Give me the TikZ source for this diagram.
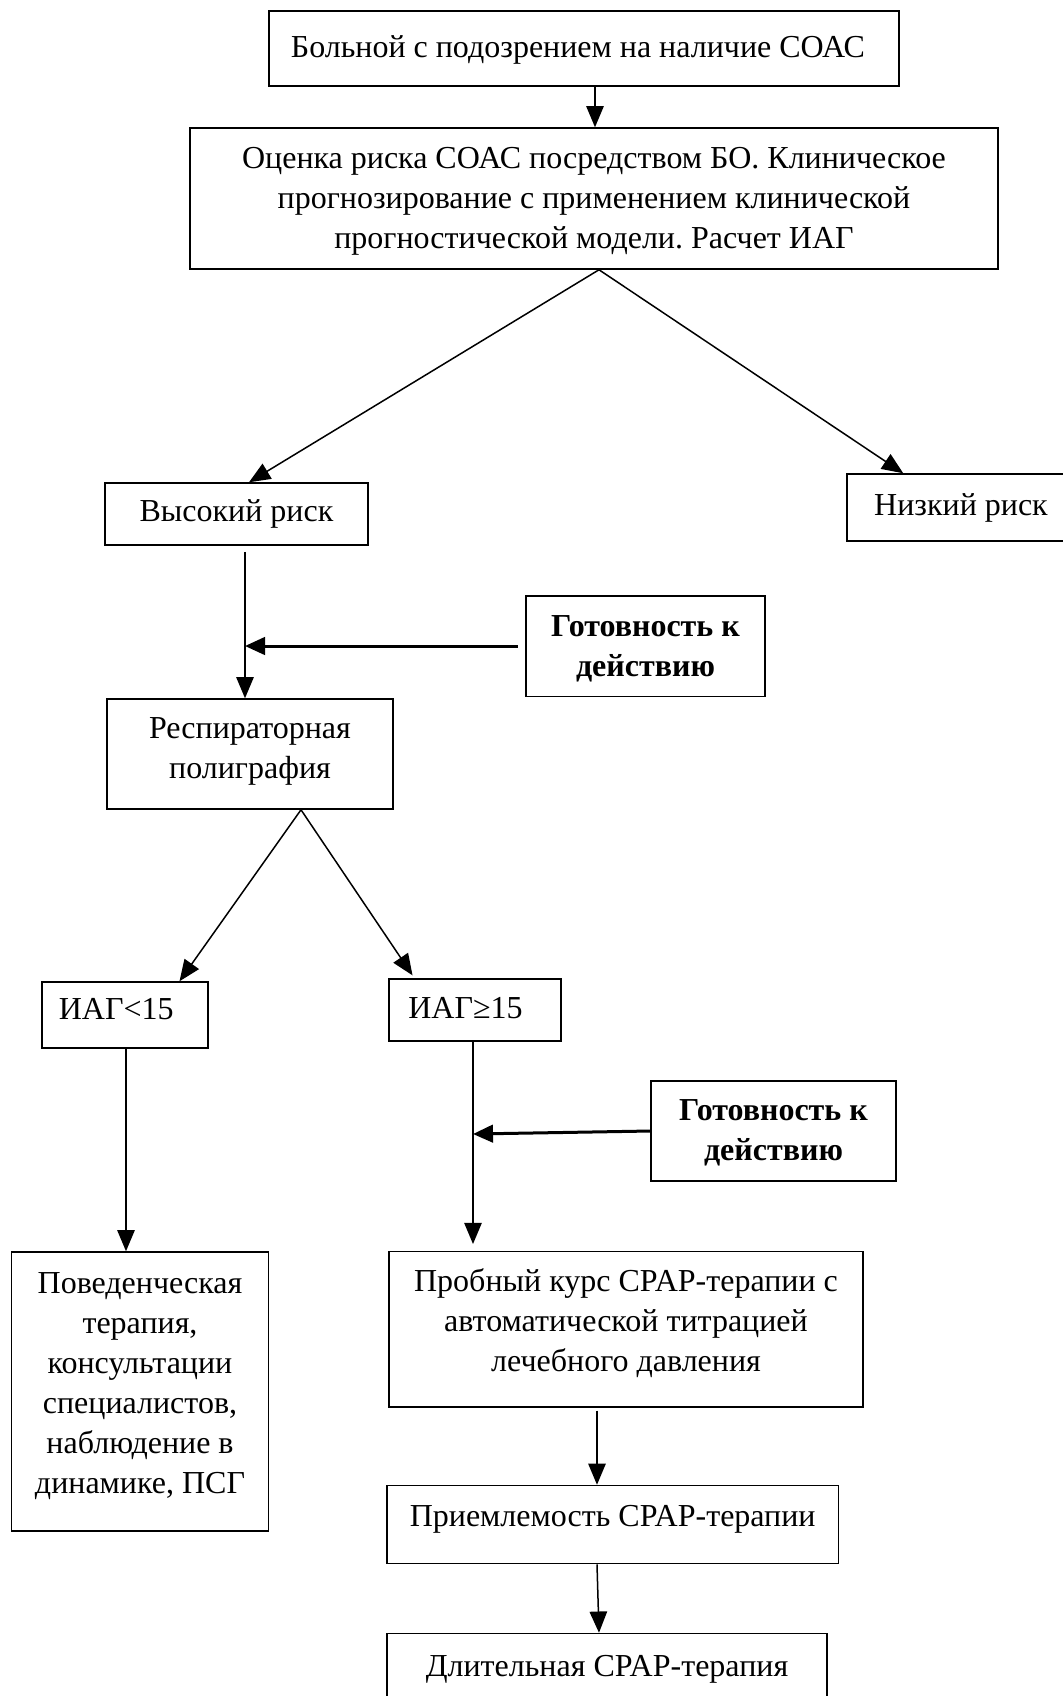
\documentclass[tikz,border=0pt]{standalone}
\usepackage{fontspec}
\setmainfont{Liberation Serif}
\usetikzlibrary{arrows.meta}
\frenchspacing

\begin{document}
\begin{tikzpicture}[x=0.4pt,y=0.4pt,yscale=-1,
  box/.style={draw,line width=0.6pt,inner sep=0pt,align=center,font=\fontsize{12.8pt}{16pt}\selectfont},
  boldbox/.style={box,font=\fontsize{12.8pt}{16pt}\selectfont\bfseries},
  arr/.style={line width=0.6pt,-{Triangle[length=8.5pt,width=7pt]}},
  thickarr/.style={line width=1.2pt,-{Triangle[length=8pt,width=7pt]}}]
\useasboundingbox (0,0) rectangle (1062,1696);

%Shape: Rectangle [susp]
\node[box,minimum width=252pt,minimum height=30pt,text depth=1.4pt] (susp) at (584,48.5) {Больной с подозрением на наличие СОАС\rule{4.8pt}{0pt}};
%Shape: Rectangle [eval]
\node[box,minimum width=323.2pt,minimum height=56.4pt,text depth=0.2pt] (eval) at (594,198.5) {Оценка риска СОАС посредством БО. Клиническое\\прогнозирование с применением клинической\\прогностической модели. Расчет ИАГ};
%Shape: Rectangle [high]
\node[box,minimum width=105.2pt,minimum height=24.8pt,text depth=2.7pt] (high) at (236.5,514) {Высокий риск};
%Shape: Rectangle [low]
\node[box,minimum width=91.2pt,minimum height=26.8pt,text depth=2pt] (low) at (961,507.5) {Низкий риск};
%Shape: Rectangle [ready1]
\node[boldbox,minimum width=95.6pt,minimum height=40.2pt,text depth=0pt] (ready1) at (645.5,646) {Готовность к\\действию};
%Shape: Rectangle [resp]
\node[box,minimum width=114.4pt,minimum height=44pt,text depth=4.6pt] (resp) at (250,754) {Респираторная\\полиграфия};
%Shape: Rectangle [lt15]
\node[box,minimum width=66.4pt,minimum height=26.4pt,text depth=5pt] (lt15) at (125,1015) {ИАГ<15\rule{7pt}{0pt}};
%Shape: Rectangle [ge15]
\node[box,minimum width=68.8pt,minimum height=24.8pt,text depth=2pt] (ge15) at (475,1010) {ИАГ≥15\rule{7.6pt}{0pt}};
%Shape: Rectangle [ready2]
\node[boldbox,minimum width=98pt,minimum height=40pt,text depth=0.4pt] (ready2) at (773.5,1131) {Готовность к\\действию};
%Shape: Rectangle [behav]
\node[box,minimum width=102.6pt,minimum height=111.6pt,text depth=6.8pt] (behav) at (140,1391.5) {Поведенческая\\терапия,\\консультации\\специалистов,\\наблюдение в\\динамике, ПСГ};
%Shape: Rectangle [trial]
\node[box,minimum width=189.6pt,minimum height=62.2pt,text depth=7pt] (trial) at (626,1329) {Пробный курс CPAP-терапии с\\автоматической титрацией\\лечебного давления};
%Shape: Rectangle [accept]
\node[box,minimum width=180.6pt,minimum height=31.2pt,text depth=6.6pt] (accept) at (612.7,1524.5) {Приемлемость CPAP-терапии};
%Shape: Rectangle [longt]
\node[box,minimum width=176pt,minimum height=36pt,text depth=9.8pt] (longt) at (607,1678.5) {Длительная CPAP-терапия};

% columns of the connectors
\coordinate (c0) at (595,0);
\coordinate (c1) at (245,0);
\coordinate (c2) at (126,0);
\coordinate (c3) at (473,0);
\coordinate (c4) at (597,0);
\coordinate (c5) at (599,0);
\coordinate (j2) at (473,1134);

%Straight Lines
\draw[arr] (susp.south -| c0) -- (eval.north -| c0);
%Straight Lines
\draw[arr] ([xshift=2pt]eval.south) -- ([xshift=5pt]high.north);
\draw[arr] ([xshift=2pt]eval.south) -- ([xshift=22.8pt]low.north west);
%Straight Lines
\draw[arr,shorten <=2.4pt] (high.south -| c1) -- (resp.north -| c1);
\draw[thickarr,shorten <=3pt] (ready1.west) -- (ready1.west -| c1);
%Straight Lines
\draw[arr] ([xshift=20.4pt]resp.south) -- ([xshift=21.8pt]lt15.north);
\draw[arr,shorten >=1.4pt] ([xshift=20.4pt]resp.south) -- ([xshift=-24.2pt]ge15.north);
%Straight Lines
\draw[arr] (lt15.south -| c2) -- (behav.north -| c2);
\draw[arr,shorten >=2.6pt] (ge15.south -| c3) -- (trial.north -| c3);
\draw[thickarr] (ready2.west) -- (j2);
%Straight Lines
\draw[arr,shorten <=1.2pt] (trial.south -| c4) -- (accept.north -| c4);
\draw[arr] (accept.south -| c4) -- (longt.north -| c5);
\end{tikzpicture}
\end{document}
